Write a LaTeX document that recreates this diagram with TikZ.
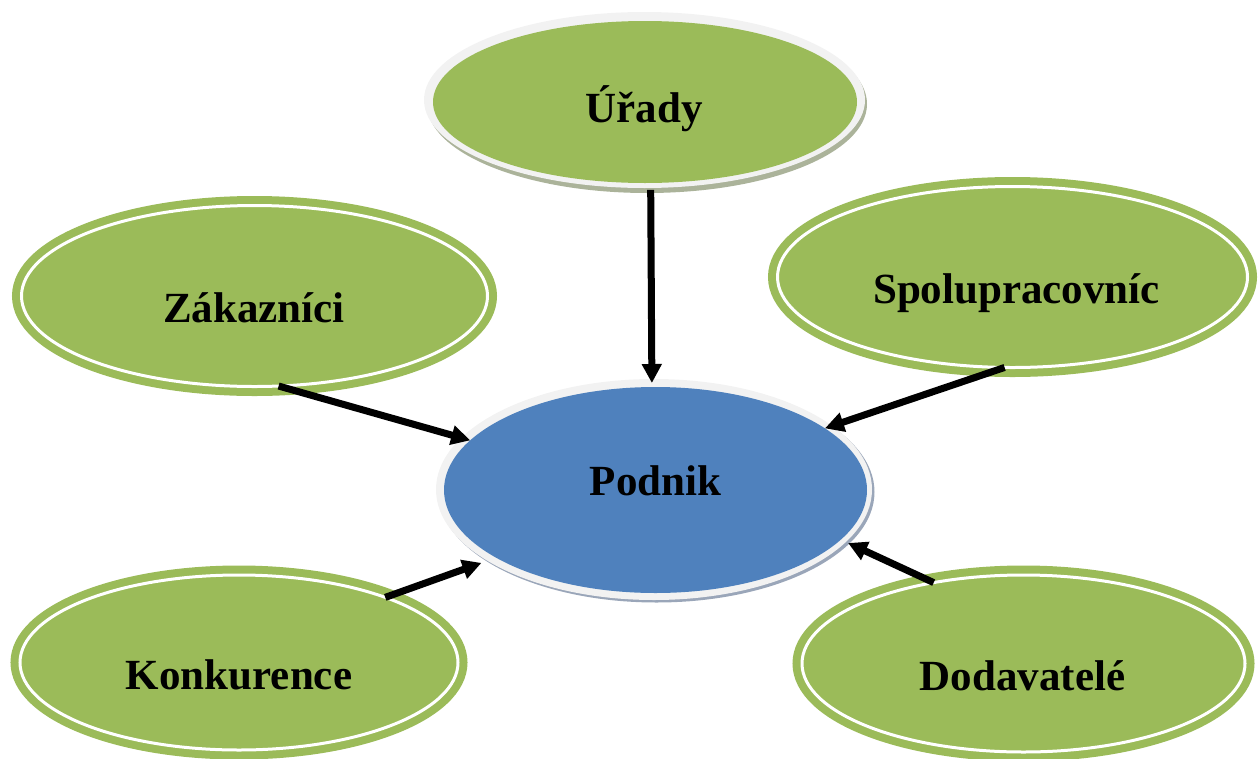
\documentclass[tikz,border=0pt]{standalone}
\usepackage{fontspec}
\setmainfont{Liberation Serif}
\usetikzlibrary{shapes.geometric,arrows.meta}
\definecolor{grn}{HTML}{9BBB59}
\definecolor{blu}{HTML}{4F81BD}
\definecolor{ringc}{HTML}{F2F2F2}
\definecolor{shg}{HTML}{ABB39A}
\definecolor{shb}{HTML}{9AA6B9}
\begin{document}
\begin{tikzpicture}[x=1pt,y=-1pt,
  greenell/.style={ellipse, inner sep=0pt, outer sep=0pt, fill=grn, draw=grn,
    line width=8pt, double=white, double distance=3pt},
  plainell/.style={ellipse, inner sep=0pt, outer sep=0pt},
  lbl/.style={font=\bfseries\fontsize{43}{50}\selectfont, anchor=base, inner sep=0pt},
  arr/.style={line width=7pt, -{Triangle[length=19pt,width=19pt]}}]
\useasboundingbox (0,0) rectangle (1258,758);
\clip (0,0) rectangle (1258,758);
% Urady
\fill[shg] (647,104) ellipse [x radius=220, y radius=89];
\fill[ringc] (644.5,100) ellipse [x radius=220.5, y radius=88];
\node[plainell, fill=grn, minimum width=424pt, minimum height=162pt] (u) at (645,102) {};
% Podnik
\fill[shb] (656.5,492) ellipse [x radius=218, y radius=110.5];
\fill[ringc] (654,489.5) ellipse [x radius=218, y radius=110.5];
\node[plainell, fill=blu, minimum width=423pt, minimum height=206pt] (p) at (655.5,490) {};
% green ellipses
\node[greenell, minimum width=466pt, minimum height=181pt] (z) at (254.5,296) {};
\node[greenell, minimum width=470pt, minimum height=181pt] (s) at (1012.5,277) {};
\node[greenell, minimum width=438pt, minimum height=175pt] (k) at (239,662.5) {};
\node[greenell, minimum width=443pt, minimum height=177pt] (d) at (1023.5,663.5) {};
% labels
\node[lbl] (tu) at (644,122) {Úřady};
\node[lbl] (tz) at (254,322) {Zákazníci};
\node[lbl] (ts) at (1016.5,303) {Spolupracovníc};
\node[lbl] (tp) at (655.5,495) {Podnik};
\node[lbl] (tk) at (239,689) {Konkurence};
\node[lbl] (td) at (1022.5,690) {Dodavatelé};
% arrows
\draw[arr, shorten <=7pt, shorten >=4pt] (u.-86.1) -- (p.92.4);
\draw[arr] (z.285.7) -- (p.165.6);
\draw[arr] (s.265.1) -- (p.20.2);
\draw[arr, shorten >=15.5pt] (k.24.8) -- (p.203.2);
\draw[arr, shorten >=8pt] (d.138.7) -- (p.345);
\end{tikzpicture}
\end{document}
